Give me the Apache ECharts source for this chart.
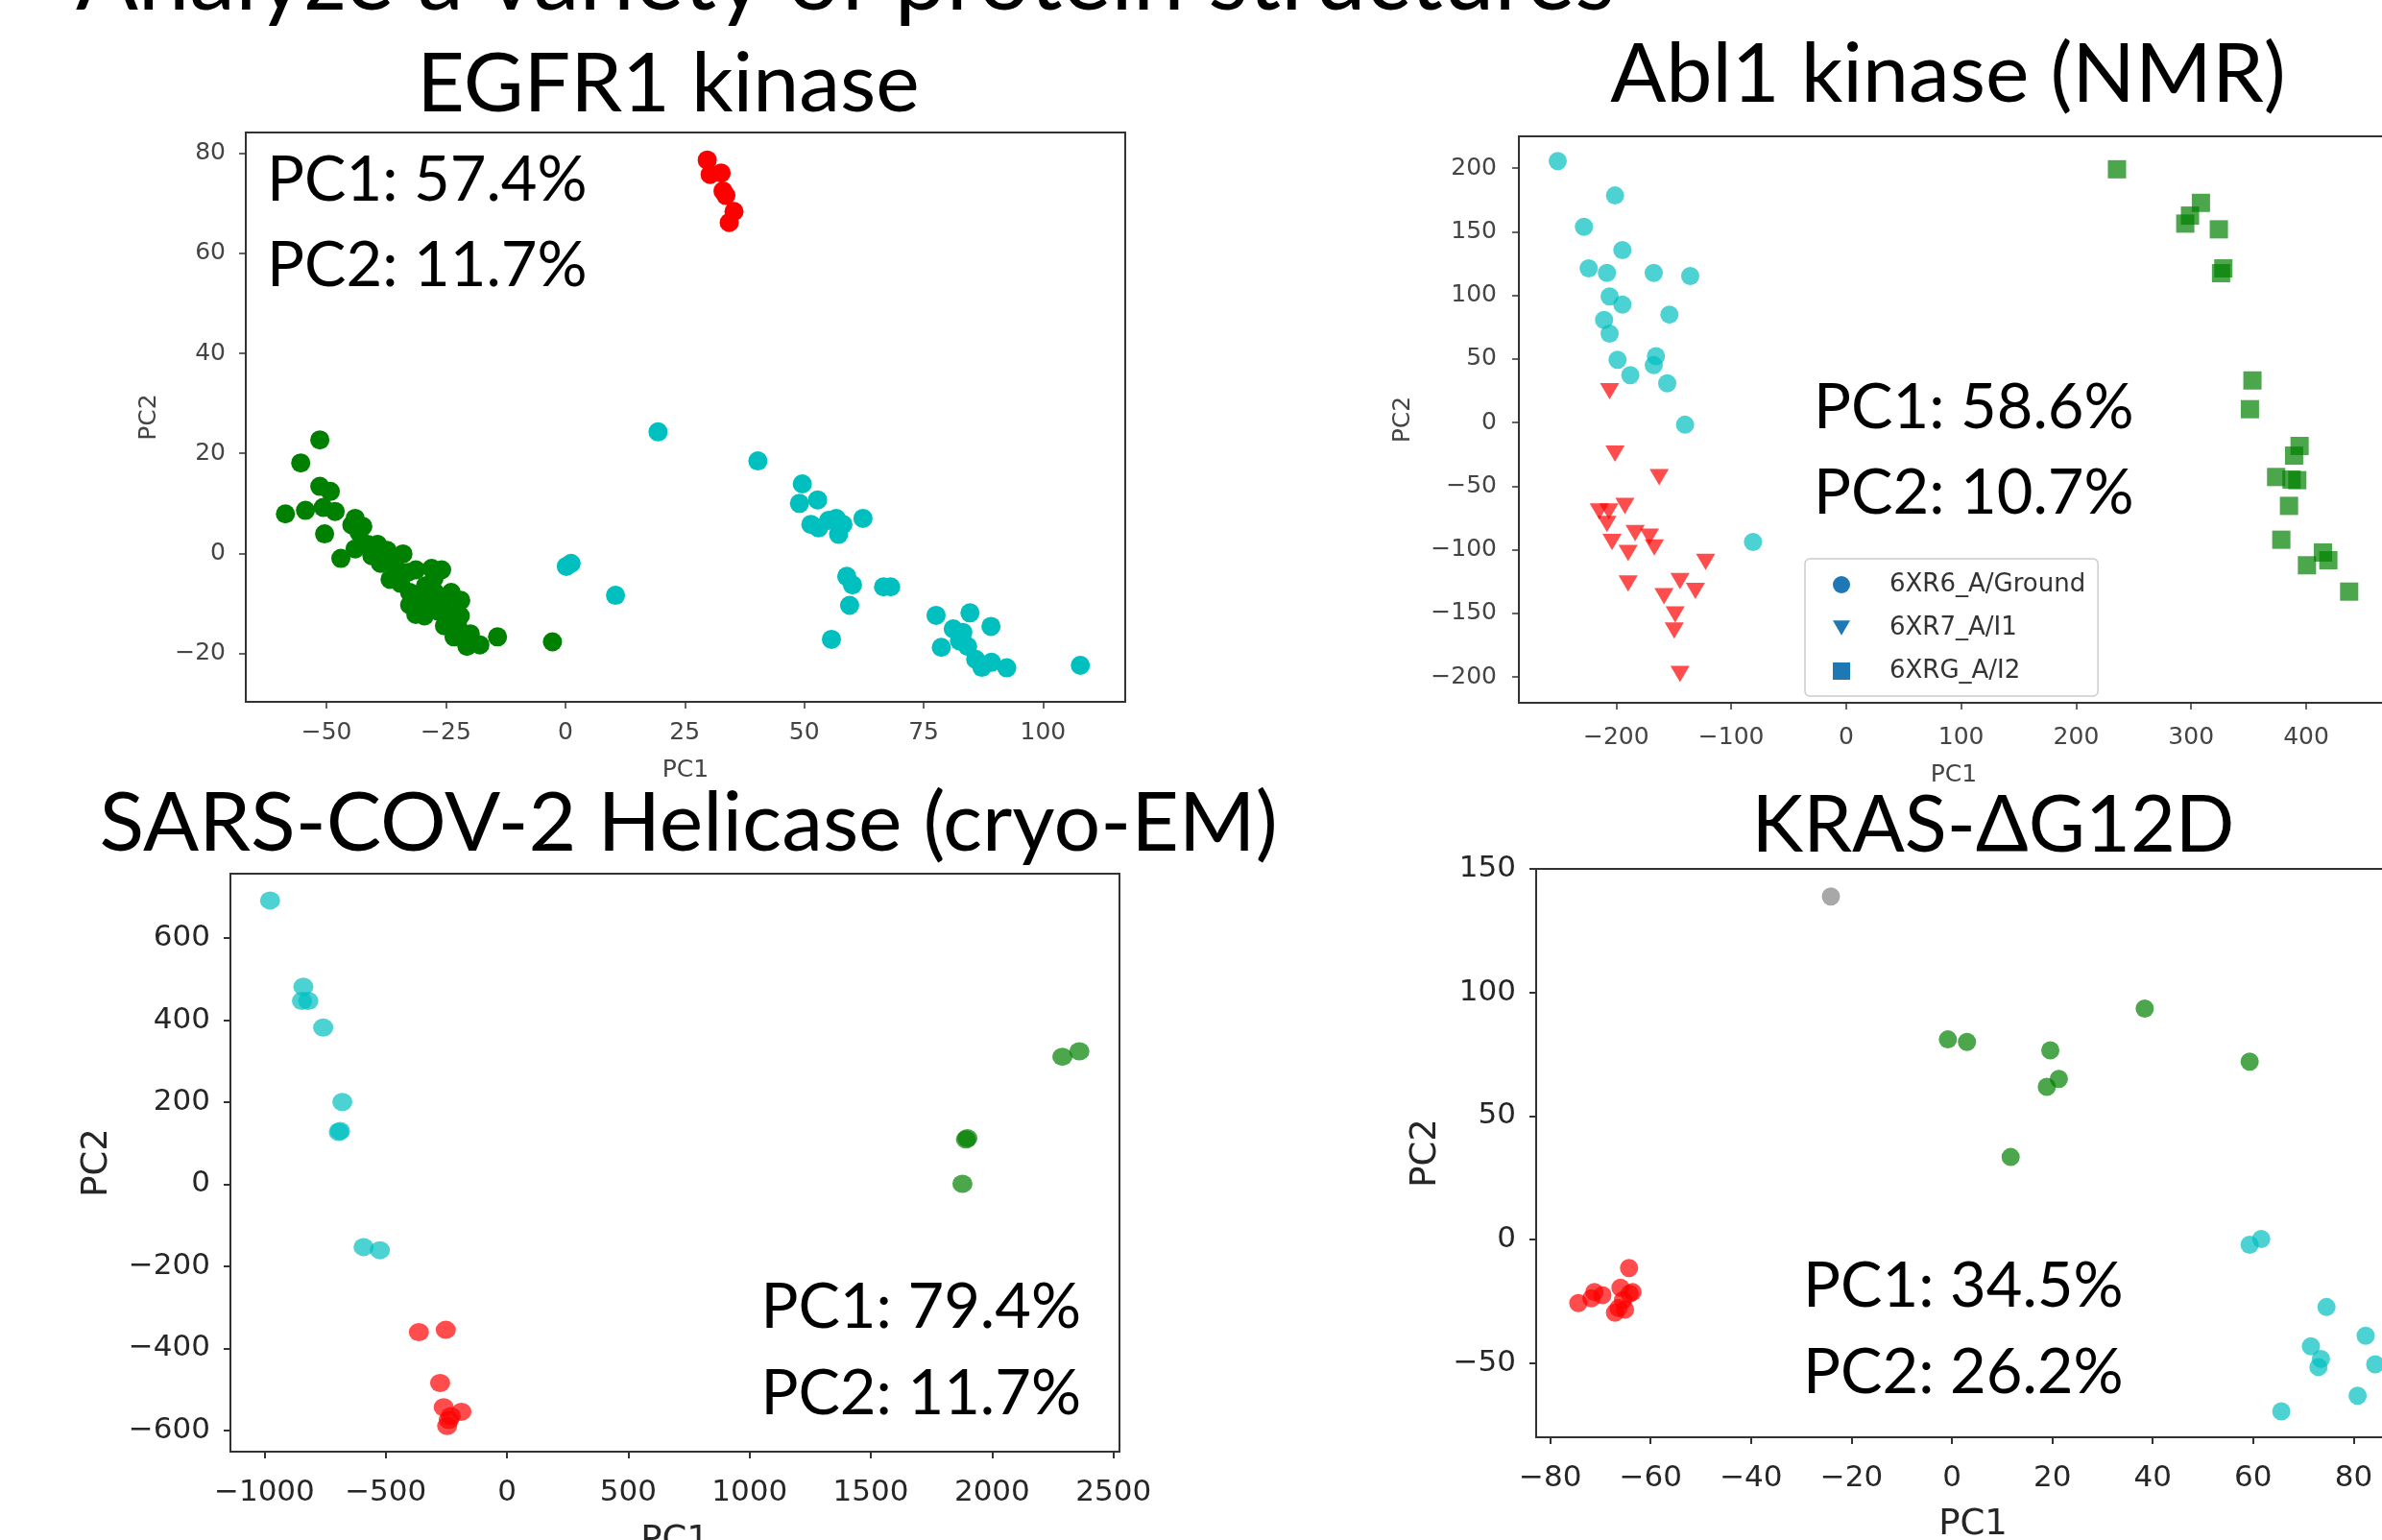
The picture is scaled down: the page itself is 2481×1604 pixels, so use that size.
<!DOCTYPE html>
<html>
<head>
<meta charset="utf-8">
<script src="https://cdn.jsdelivr.net/npm/echarts@6/dist/echarts.min.js"></script>
<style>
html,body{margin:0;padding:0;background:#fff;}
#chart{width:2481px;height:1604px;}
</style>
</head>
<body>
<div id="chart"></div>
<script>
// ---------- text ----------
const mainTitle = 'Analyze a variety of protein structures';
const panelTitles = ['EGFR1 kinase', 'Abl1 kinase (NMR)', 'SARS-COV-2 Helicase (cryo-EM)', 'KRAS-\u0394G12D'];
const varianceText = [
  ['PC1: 57.4%', 'PC2: 11.7%'],
  ['PC1: 58.6%', 'PC2: 10.7%'],
  ['PC1: 79.4%', 'PC2: 11.7%'],
  ['PC1: 34.5%', 'PC2: 26.2%']
];
const legendNames = ['6XR6_A/Ground', '6XR7_A/I1', '6XRG_A/I2'];

// ---------- tick values ----------
const egfrXTicks = [-50, -25, 0, 25, 50, 75, 100];
const egfrYTicks = [-20, 0, 20, 40, 60, 80];
const ablXTicks = [-200, -100, 0, 100, 200, 300, 400];
const ablYTicks = [-200, -150, -100, -50, 0, 50, 100, 150, 200];
const sarsXTicks = [-1000, -500, 0, 500, 1000, 1500, 2000, 2500];
const sarsYTicks = [-600, -400, -200, 0, 200, 400, 600];
const krasXTicks = [-80, -60, -40, -20, 0, 20, 40, 60, 80];
const krasYTicks = [-50, 0, 50, 100, 150];

// ---------- data: EGFR1 kinase ----------
const egfrGreen = [[-51.4,22.7],[-55.4,18.1],[-58.6,7.9],[-54.4,8.6],[-51.4,13.4],[-49.2,12.4],[-50.7,9.2],[-48.2,8.4],[-50.4,3.9],[-44.0,7.0],[-44.7,5.7],[-42.4,5.4],[-43.2,4.2],[-47.0,-1.0],[-44.0,0.9],[-41.4,1.8],[-39.3,1.8],[-37.3,0.6],[-34.0,-0.1],[-38.7,-2.0],[-36.7,-5.2],[-35.5,-3.0],[-33.0,-3.8],[-31.3,-3.3],[-25.9,-3.3],[-27.5,-5.0],[-32.6,-7.8],[-29.3,-6.5],[-27.3,-7.8],[-23.9,-7.8],[-21.9,-9.4],[-30.5,-9.0],[-25.5,-9.5],[-32.6,-10.3],[-31.3,-12.2],[-28.6,-10.9],[-26.6,-11.6],[-29.5,-12.5],[-25.3,-14.5],[-22.6,-14.2],[-21.3,-16.7],[-19.9,-16.1],[-20.6,-18.6],[-17.9,-18.3],[-23.3,-16.7],[-14.2,-16.7],[-2.7,-17.7],[-40.5,-0.5],[-36.0,-1.5],[-34.5,-6.0],[-28.0,-3.0],[-24.5,-12.0],[-22.0,-12.5]];
const egfrCyan = [[1.2,-2.0],[0.2,-2.6],[10.5,-8.4],[19.4,24.3],[40.3,18.5],[49.6,13.9],[49.0,10.0],[52.8,10.7],[51.4,5.8],[53.0,5.1],[55.1,6.6],[56.7,7.0],[58.1,5.8],[57.2,3.8],[62.3,7.0],[58.9,-4.6],[60.1,-6.3],[59.5,-10.4],[55.7,-17.2],[66.6,-6.7],[68.1,-6.7],[77.6,-12.4],[84.7,-11.9],[89.1,-14.6],[81.2,-15.1],[83.2,-15.8],[82.5,-17.5],[78.7,-18.8],[84.2,-18.6],[85.9,-21.2],[87.2,-22.8],[89.2,-21.8],[92.4,-22.9],[107.8,-22.4]];
const egfrRed = [[29.7,78.7],[30.3,75.8],[32.6,76.1],[33.6,71.6],[35.3,68.4],[34.3,66.2],[33.0,72.5]];

// ---------- data: Abl1 kinase ----------
const ablGround = [[-250.8,205.5],[-201.0,178.5],[-228.0,153.9],[-194.6,135.5],[-223.9,121.2],[-208.0,117.6],[-167.3,117.6],[-135.6,115.2],[-205.7,99.1],[-194.6,92.8],[-153.7,84.9],[-210.5,80.6],[-205.7,69.9],[-198.8,49.4],[-165.4,52.2],[-167.3,45.1],[-187.7,37.2],[-155.6,30.9],[-140.1,-1.7],[-81.0,-93.9]];
const ablI1 = [[-205.7,24.7],[-201.0,-24.4],[-162.6,-42.9],[-214.7,-69.9],[-206.3,-69.9],[-192.4,-65.6],[-208.0,-79.8],[-203.6,-93.9],[-183.5,-86.9],[-171.0,-89.7],[-189.6,-102.5],[-166.8,-98.2],[-122.2,-109.6],[-189.6,-126.6],[-144.5,-124.7],[-131.1,-132.3],[-158.4,-136.6],[-148.7,-150.8],[-149.5,-163.5],[-144.5,-197.6]];
const ablI2 = [[235.5,199.1],[308.5,172.7],[299.0,162.7],[294.9,156.4],[324.1,151.9],[328.0,121.2],[326.0,117.4],[353.3,33.1],[351.1,10.5],[394.3,-18.4],[389.5,-26.0],[373.9,-42.8],[387.3,-44.8],[392.3,-45.3],[385.1,-65.5],[378.4,-92.1],[414.6,-102.2],[419.3,-108.2],[400.7,-112.2],[437.4,-132.9]];

// ---------- data: SARS-COV-2 helicase ----------
const sarsCyan = [[-976.6,691.7],[-839.3,481.3],[-845,446.8],[-818.9,446.8],[-757.5,382.0],[-678.6,200.7],[-693.3,127.3],[-688,130],[-591.0,-153.2],[-523.8,-160.8]];
const sarsRed = [[-363.1,-360.4],[-252.1,-355.0],[-275.5,-484.5],[-260.9,-543.8],[-187.8,-554.6],[-231.6,-565.4],[-246.3,-589.2],[-240,-575]];
const sarsGreen = [[1898.1,112.3],[1892,109],[1877.7,1.1],[2289.6,310.8],[2359.8,323.8]];

// ---------- data: KRAS ----------
const krasGray = [[-24.1,138.8]];
const krasGreen = [[-0.8,81.0],[3.0,80.0],[19.6,76.6],[18.9,61.8],[21.3,65.0],[11.7,33.4],[38.4,93.5],[59.3,72.0]];
const krasCyan = [[59.3,-2.1],[61.6,0.2],[74.6,-27.3],[82.4,-38.9],[71.5,-43.2],[73.5,-48.3],[73.0,-51.6],[84.3,-50.5],[80.8,-63.2],[65.6,-69.5]];
const krasRed = [[-74.4,-25.7],[-71.2,-21.2],[-69.6,-22.5],[-71.8,-23.8],[-64.3,-11.5],[-64.2,-21.9],[-63.6,-21.2],[-65.5,-24.5],[-66.4,-27.7],[-67.1,-29.6],[-65.1,-28.3],[-66.0,-19.5]];

// ---------- style ----------
const CYAN = '#00bfbf', GREEN = '#008000', RED = '#ff0000', GRAY = '#999999', BLUE = '#1f77b4';
const TICK_FONT = "'DejaVu Sans', sans-serif";
const BIG_FONT = "Lato, 'Open Sans', sans-serif";

function fmt(v) { return v < 0 ? '\u2212' + Math.abs(v) : String(v); }

const panels = [
  {grid:{left:256, top:138, width:916, height:593}, x:[-66.9,117.2], y:[-29.7,84.2], xt:egfrXTicks, yt:egfrYTicks, fs:25, nfs:25, col:'#444', xm:20, ym:21, xGap:59, yGap:88, tw:1.5},
  {grid:{left:1582, top:142, width:906, height:590}, x:[-284.6,471.8], y:[-220.3,225.0], xt:ablXTicks, yt:ablYTicks, fs:25, nfs:25, col:'#444', xm:24, ym:23, xGap:63, yGap:108, tw:1.5},
  {grid:{left:240, top:910, width:926, height:602}, x:[-1140,2525], y:[-652,757], xt:sarsXTicks, yt:sarsYTicks, fs:31, nfs:37, col:'#262626', xm:27, ym:21, xGap:75, yGap:120, tw:2},
  {grid:{left:1600, top:905, width:910, height:592}, x:[-82.8,91.2], y:[-80,150], xt:krasXTicks, yt:krasYTicks, fs:31, nfs:37, col:'#262626', xm:27, ym:21, xGap:73, yGap:96, tw:2}
];

const grids = panels.map(p => Object.assign({show:true, borderColor:'#333', borderWidth:2, backgroundColor:'transparent', containLabel:false, outerBoundsMode:'none'}, p.grid));
const xAxes = panels.map((p, i) => ({
  gridIndex:i, type:'value', min:p.x[0], max:p.x[1], position:'bottom',
  axisLine:{show:false, onZero:false}, splitLine:{show:false},
  axisTick:{show:true, inside:false, length:7, lineStyle:{color:'#333', width:p.tw}, customValues:p.xt},
  axisLabel:{customValues:p.xt, formatter:fmt, fontSize:p.fs, color:p.col, fontFamily:TICK_FONT, margin:p.xm, hideOverlap:false},
  name:'PC1', nameLocation:'middle', nameGap:p.xGap,
  nameTextStyle:{fontSize:p.nfs, color:p.col, fontFamily:TICK_FONT}
}));
const yAxes = panels.map((p, i) => ({
  gridIndex:i, type:'value', min:p.y[0], max:p.y[1], position:'left',
  axisLine:{show:false, onZero:false}, splitLine:{show:false},
  axisTick:{show:true, inside:false, length:7, lineStyle:{color:'#333', width:p.tw}, customValues:p.yt},
  axisLabel:{customValues:p.yt, formatter:fmt, fontSize:p.fs, color:p.col, fontFamily:TICK_FONT, margin:p.ym, hideOverlap:false},
  name:'PC2', nameLocation:'middle', nameGap:p.yGap, nameRotate:90,
  nameTextStyle:{fontSize:p.nfs, color:p.col, fontFamily:TICK_FONT}
}));

function sc(name, idx, data, color, opacity, symbol, size, extra) {
  return Object.assign({
    name:name, type:'scatter', xAxisIndex:idx, yAxisIndex:idx, data:data,
    symbol:symbol, symbolSize:size,
    itemStyle:{color:color, opacity:opacity},
    emphasis:{disabled:true}, silent:true
  }, extra || {});
}

const series = [
  sc('EGFR1 green', 0, egfrGreen, GREEN, 1, 'circle', 20),
  sc('EGFR1 cyan', 0, egfrCyan, CYAN, 1, 'circle', 20),
  sc('EGFR1 red', 0, egfrRed, RED, 1, 'circle', 20),
  sc(legendNames[0], 1, ablGround, CYAN, 0.7, 'circle', 19),
  sc(legendNames[1], 1, ablI1, RED, 0.7, 'triangle', [20, 17], {symbolRotate:180}),
  sc(legendNames[2], 1, ablI2, GREEN, 0.7, 'rect', 19),
  sc('SARS cyan', 2, sarsCyan, CYAN, 0.7, 'circle', [21, 19]),
  sc('SARS red', 2, sarsRed, RED, 0.7, 'circle', [21, 19]),
  sc('SARS green', 2, sarsGreen, GREEN, 0.7, 'circle', [21, 19]),
  sc('KRAS gray', 3, krasGray, GRAY, 0.85, 'circle', 19),
  sc('KRAS green', 3, krasGreen, GREEN, 0.7, 'circle', 19),
  sc('KRAS cyan', 3, krasCyan, CYAN, 0.7, 'circle', 19),
  sc('KRAS red', 3, krasRed, RED, 0.7, 'circle', 19)
];

// text overlays
const titlePos = [[696, 88, 86], [2029, 78, 86], [717, 858, 86], [2076, 861, 81]];
const varPos = [
  [278, 188, 277, 'left'],
  [1889, 425, 514, 'left'],
  [1126, 1362, 1452, 'right'],
  [1878, 1340, 1430, 'left']
];
const graphics = [];
graphics.push({type:'text', style:{text:mainTitle, x:79, y:-21, font:'96px ' + BIG_FONT, fill:'#000', align:'left', verticalAlign:'middle'}});
panelTitles.forEach((t, i) => {
  graphics.push({type:'text', style:{text:t, x:titlePos[i][0], y:titlePos[i][1], font:titlePos[i][2] + 'px ' + BIG_FONT, fill:'#000', align:'center', verticalAlign:'middle'}});
});
varianceText.forEach((pair, i) => {
  const v = varPos[i];
  graphics.push({type:'text', style:{text:pair[0], x:v[0], y:v[1], font:'65px ' + BIG_FONT, fill:'#000', align:v[3], verticalAlign:'middle'}});
  graphics.push({type:'text', style:{text:pair[1], x:v[0], y:v[2], font:'65px ' + BIG_FONT, fill:'#000', align:v[3], verticalAlign:'middle'}});
});

const chart = echarts.init(document.getElementById('chart'), null, {renderer:'canvas'});
chart.setOption({
  backgroundColor:'#ffffff',
  animation:false,
  grid:grids,
  xAxis:xAxes,
  yAxis:yAxes,
  legend:{
    show:true, selectedMode:false, orient:'vertical',
    left:1880, top:582,
    padding:[14, 13, 13, 29],
    itemGap:19, itemWidth:18, itemHeight:18,
    backgroundColor:'rgba(255,255,255,0.8)', borderColor:'#cccccc', borderWidth:1.5, borderRadius:5,
    textStyle:{fontSize:26, color:'#333', fontFamily:TICK_FONT, padding:[0,0,0,36]},
    data:[
      {name:legendNames[0], icon:'circle', itemStyle:{color:BLUE, opacity:1}},
      {name:legendNames[1], icon:'path://M0,0L20,0L10,17Z', itemStyle:{color:BLUE, opacity:1}},
      {name:legendNames[2], icon:'rect', itemStyle:{color:BLUE, opacity:1}}
    ]
  },
  series:series,
  graphic:graphics
});
</script>
</body>
</html>
